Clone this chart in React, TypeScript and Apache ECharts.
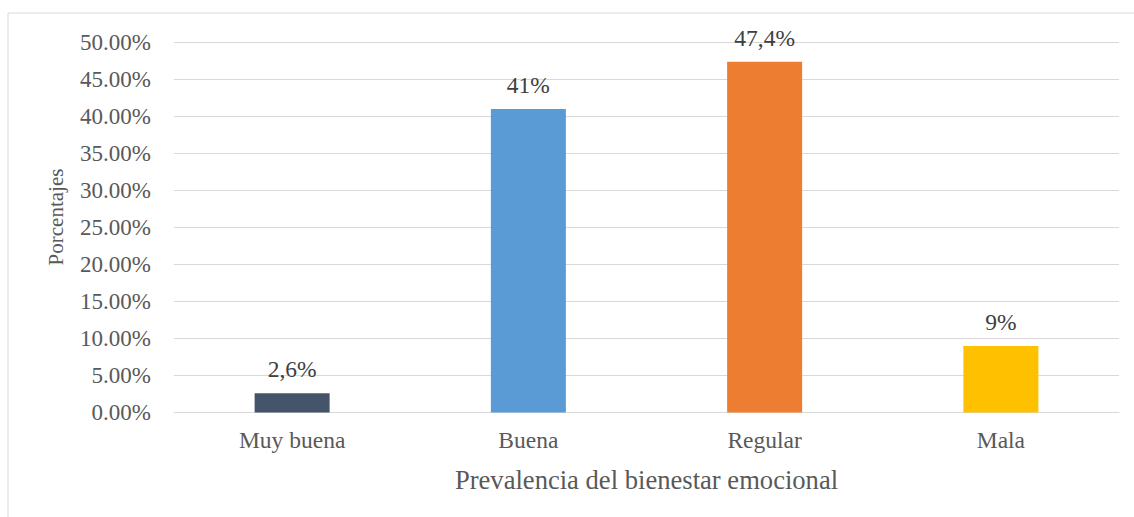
import React, { useEffect, useRef } from "react";
import * as echarts from "echarts";

const categories = ["Muy buena", "Buena", "Regular", "Mala"];
const values = [2.6, 41, 47.4, 9];
const valueLabels = ["2,6%", "41%", "47,4%", "9%"];
const barColors = ["#44546A", "#5B9BD5", "#ED7D31", "#FFC000"];
const yTicks = [0, 5, 10, 15, 20, 25, 30, 35, 40, 45, 50];
const xTitle = "Prevalencia del bienestar emocional";
const yTitle = "Porcentajes";

const FONT = "Liberation Serif";
const TEXT = "#595959";

export default function App() {
  const ref = useRef<HTMLDivElement>(null);
  useEffect(() => {
    if (!ref.current) return;
    const chart = echarts.init(ref.current, null, { renderer: "svg" });
    chart.setOption({
      animation: false,
      backgroundColor: "#ffffff",
      textStyle: { fontFamily: FONT },
      grid: { left: 174, right: 15, top: 42.5, bottom: 104.5, containLabel: false },
      graphic: [
        {
          type: "rect",
          shape: { x: 8, y: 13, width: 1140, height: 520 },
          style: { fill: "none", stroke: "#d9d9d9", lineWidth: 1 },
          silent: true,
        },
        {
          type: "text",
          x: 56,
          y: 217,
          rotation: Math.PI / 2,
          style: {
            text: yTitle,
            fontFamily: FONT,
            fontSize: 21,
            fill: TEXT,
            align: "center",
            verticalAlign: "middle",
          },
        },
        {
          type: "text",
          x: 646.5,
          y: 480,
          style: {
            text: xTitle,
            fontFamily: FONT,
            fontSize: 26.6,
            fill: TEXT,
            align: "center",
            verticalAlign: "middle",
          },
        },
      ],
      xAxis: {
        type: "category",
        data: categories,
        axisLine: { show: true, lineStyle: { color: "#d9d9d9", width: 1 } },
        axisTick: { show: false },
        axisLabel: { color: TEXT, fontFamily: FONT, fontSize: 23.5, margin: 15 },
      },
      yAxis: {
        type: "value",
        min: yTicks[0],
        max: yTicks[yTicks.length - 1],
        interval: 5,
        axisLine: { show: false },
        axisTick: { show: false },
        splitLine: { show: true, lineStyle: { color: "#d9d9d9", width: 1 } },
        axisLabel: {
          color: TEXT,
          fontFamily: FONT,
          fontSize: 23,
          margin: 23,
          formatter: (v: number) => v.toFixed(2) + "%",
        },
      },
      series: [
        {
          type: "bar",
          barWidth: 75,
          data: values.map((v, i) => ({ value: v, itemStyle: { color: barColors[i] } })),
          label: {
            show: true,
            position: "top",
            distance: 12,
            color: "#404040",
            fontFamily: FONT,
            fontSize: 23.5,
            formatter: (p: any) => valueLabels[p.dataIndex],
          },
        },
      ],
    });
    return () => chart.dispose();
  }, []);
  return (
    <div
      ref={ref}
      style={{ position: "fixed", left: 0, top: 0, width: 1134, height: 517 }}
    />
  );
}
